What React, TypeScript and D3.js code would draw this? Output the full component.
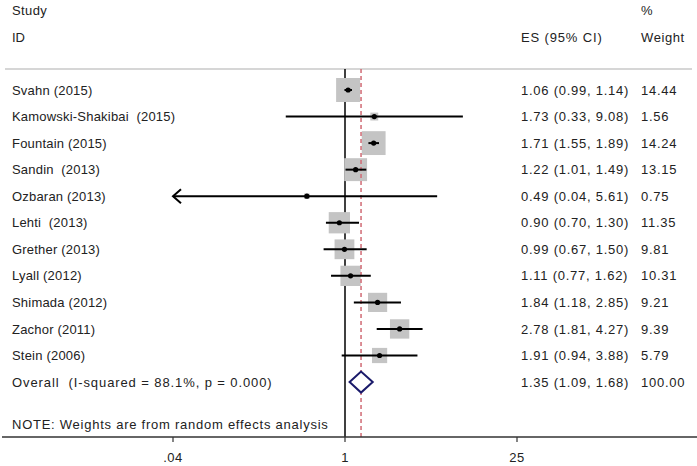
import React from "react";
import * as d3 from "d3";

const studies = [
  "Svahn (2015)",
  "Kamowski-Shakibai  (2015)",
  "Fountain (2015)",
  "Sandin  (2013)",
  "Ozbaran (2013)",
  "Lehti  (2013)",
  "Grether (2013)",
  "Lyall (2012)",
  "Shimada (2012)",
  "Zachor (2011)",
  "Stein (2006)",
];
const es = [1.06, 1.73, 1.71, 1.22, 0.49, 0.9, 0.99, 1.11, 1.84, 2.78, 1.91];
const lower = [0.99, 0.33, 1.55, 1.01, 0.04, 0.7, 0.67, 0.77, 1.18, 1.81, 0.94];
const upper = [1.14, 9.08, 1.89, 1.49, 5.61, 1.3, 1.5, 1.62, 2.85, 4.27, 3.88];
const weights = [14.44, 1.56, 14.24, 13.15, 0.75, 11.35, 9.81, 10.31, 9.21, 9.39, 5.79];
const overall = { es: 1.35, lo: 1.09, hi: 1.68, w: 100.0 };
const overallLabel = "Overall  (I-squared = 88.1%, p = 0.000)";
const noteLabel = "NOTE: Weights are from random effects analysis";
const tickValues = [0.04, 1, 25];
const tickLabels = [".04", "1", "25"];

const W = 697;
const H = 466;
const FONT = "'Liberation Sans', Arial, sans-serif";
const TXT = "#222";

export default function App() {
  const x = d3.scaleLog().domain([0.04, 25]).range([173, 517]);
  const rowY = d3
    .scaleLinear()
    .domain([0, studies.length])
    .range([90, 90 + studies.length * 26.55]);
  const sideScale = d3.scaleSqrt().domain([0, 14.44]).range([0, 24]);
  const axisY = 437;
  const topLine = 69;
  const xMin = x.domain()[0];
  const xMax = x.domain()[1];
  const fmt = (v: number) => v.toFixed(2);
  const numStyle = { letterSpacing: "0.75px" } as React.CSSProperties;

  return (
    <div style={{ position: "absolute", left: 0, top: 0 }}>
      <svg width={W} height={H} style={{ display: "block", background: "#fff" }}>
        <g fontFamily={FONT} fontSize={13} fill={TXT}>
          <text x={12} y={10} dy="0.35em" style={{ letterSpacing: "0.4px" }}>Study</text>
          <text x={12} y={37} dy="0.35em">ID</text>
          <text x={521} y={37} dy="0.35em" style={{ letterSpacing: "0.85px" }}>ES (95% CI)</text>
          <text x={641} y={10} dy="0.35em">%</text>
          <text x={641} y={37} dy="0.35em" style={{ letterSpacing: "0.6px" }}>Weight</text>
        </g>
        <line x1={5} x2={692} y1={topLine} y2={topLine} stroke="#c8c8c8" strokeWidth={1.5} />

        {/* null line */}
        <line x1={x(1)} x2={x(1)} y1={topLine} y2={axisY} stroke="#000" strokeWidth={1.5} />

        {/* squares */}
        {studies.map((s, i) => {
          const side = sideScale(weights[i]);
          return (
            <rect
              key={"sq" + i}
              x={x(es[i]) - side / 2}
              y={rowY(i) - side / 2}
              width={side}
              height={side}
              fill="#c4c4c4"
            />
          );
        })}

        {/* overall dashed line */}
        <line
          x1={x(overall.es)}
          x2={x(overall.es)}
          y1={topLine}
          y2={axisY}
          stroke="#d06a74"
          strokeWidth={1.5}
          strokeDasharray="4,3"
        />

        {/* CIs */}
        {studies.map((s, i) => {
          const lo = Math.max(lower[i], xMin);
          const hi = Math.min(upper[i], xMax);
          const y = rowY(i);
          const arrowLeft = lower[i] <= xMin;
          return (
            <g key={"ci" + i}>
              <line x1={x(lo)} x2={x(hi)} y1={y} y2={y} stroke="#000" strokeWidth={2} />
              {arrowLeft && (
                <path
                  d={`M${x(lo) + 8},${y - 7} L${x(lo)},${y} L${x(lo) + 8},${y + 7}`}
                  fill="none"
                  stroke="#000"
                  strokeWidth={2}
                />
              )}
              <circle cx={x(es[i])} cy={y} r={2.6} fill="#000" />
            </g>
          );
        })}

        {/* overall diamond */}
        {(() => {
          const y = rowY(studies.length);
          return (
            <path
              d={`M${x(overall.lo)},${y} L${x(overall.es)},${y - 10.5} L${x(overall.hi)},${y} L${x(overall.es)},${y + 10.5} Z`}
              fill="#fff"
              stroke="#1a1a6a"
              strokeWidth={2}
            />
          );
        })()}

        {/* texts */}
        <g fontFamily={FONT} fontSize={13} fill={TXT}>
          {studies.map((s, i) => (
            <g key={"t" + i}>
              <text x={12} y={rowY(i)} dy="0.35em" style={{ whiteSpace: "pre", letterSpacing: "0.2px" }}>{s}</text>
              <text x={521} y={rowY(i)} dy="0.35em" style={numStyle}>
                {`${fmt(es[i])} (${fmt(lower[i])}, ${fmt(upper[i])})`}
              </text>
              <text x={641} y={rowY(i)} dy="0.35em" style={numStyle}>{fmt(weights[i])}</text>
            </g>
          ))}
          <text x={12} y={rowY(studies.length)} dy="0.35em" style={{ whiteSpace: "pre", letterSpacing: "0.9px" }}>{overallLabel}</text>
          <text x={521} y={rowY(studies.length)} dy="0.35em" style={numStyle}>
            {`${fmt(overall.es)} (${fmt(overall.lo)}, ${fmt(overall.hi)})`}
          </text>
          <text x={641} y={rowY(studies.length)} dy="0.35em" style={numStyle}>{fmt(overall.w)}</text>
          <text x={12} y={424} dy="0.35em" style={{ letterSpacing: "0.75px" }}>{noteLabel}</text>
        </g>

        {/* axis */}
        <line x1={2} x2={697} y1={axisY} y2={axisY} stroke="#333" strokeWidth={1.5} />
        <g fontFamily={FONT} fontSize={13} fill={TXT}>
          {tickValues.map((t, i) => (
            <g key={"tk" + i}>
              <line x1={x(t)} x2={x(t)} y1={axisY} y2={axisY + 5} stroke="#333" strokeWidth={1.2} />
              <text x={x(t)} y={457} dy="0.35em" textAnchor="middle" style={{ letterSpacing: "0.5px" }}>{tickLabels[i]}</text>
            </g>
          ))}
        </g>
      </svg>
    </div>
  );
}
